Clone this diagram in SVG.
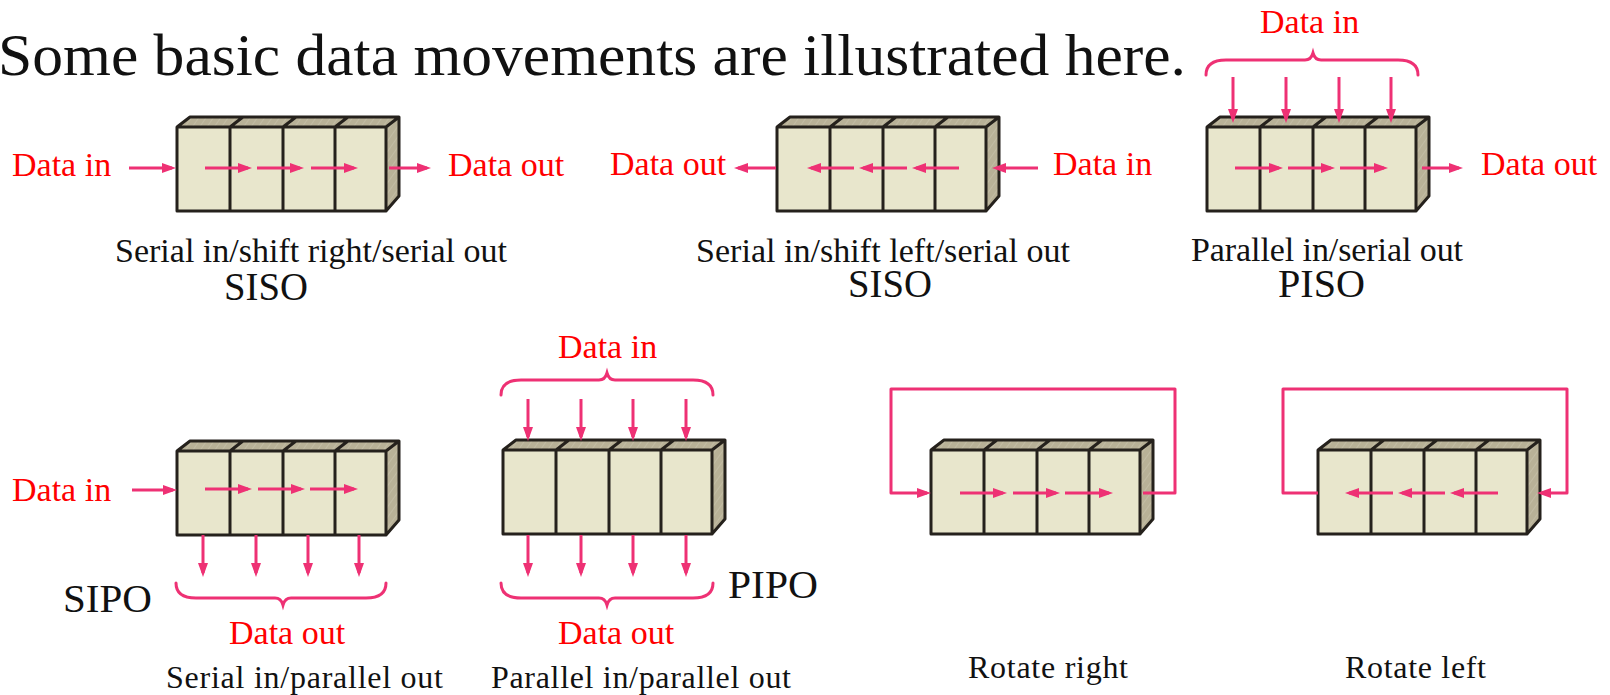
<svg xmlns="http://www.w3.org/2000/svg" width="1610" height="695" viewBox="0 0 1610 695">
  <style>
    .title { font-family: "Liberation Serif", "Times New Roman", serif; font-size: 60px; fill: #111; }
    .cap { font-family: "Liberation Serif", "Times New Roman", serif; font-size: 34px; fill: #111; }
    .cap2 { font-family: "Liberation Serif", "Times New Roman", serif; font-size: 32px; fill: #111; }
    .abbr { font-family: "Liberation Serif", "Times New Roman", serif; font-size: 39px; fill: #111; }
    .io { font-family: "Liberation Serif", "Times New Roman", serif; font-size: 34px; fill: #ff0000; }
    .front { fill: #e8e6cc; }
    .face { fill: url(#hatch); }
    .edge { fill: none; stroke: #25211c; stroke-width: 3; stroke-linejoin: round; }
    .flow { fill: none; stroke: #ee3174; stroke-width: 3; stroke-linejoin: round; marker-end: url(#ah); }
    .brace { fill: none; stroke: #ee3174; stroke-width: 3; stroke-linecap: round; }
  </style>
  <defs>
    <pattern id="hatch" width="6" height="6" patternUnits="userSpaceOnUse" patternTransform="rotate(35)">
      <rect width="6" height="6" fill="#b8b197"/>
      <line x1="0" y1="0" x2="0" y2="6" stroke="#cdc8b2" stroke-width="1"/>
    </pattern>
    <marker id="ah" viewBox="0 0 14 10" refX="10" refY="5" markerWidth="14" markerHeight="10" orient="auto" markerUnits="userSpaceOnUse">
      <path d="M0,0 L14,5 L0,10 z" fill="#ee3174"/>
    </marker>
    <!-- four-stage register drawn as a shaded block, origin at the front top-left corner -->
    <g id="reg">
      <polygon class="face" points="0,0 13,-10 222,-10 209,0"/>
      <polygon class="face" points="209,0 222,-10 222,69 209,84"/>
      <rect class="front" x="0" y="0" width="209" height="84"/>
      <path class="edge" d="M0,0 H209 V84 H0 Z M0,0 L13,-10 H222 L209,0 M222,-10 V69 L209,84 M53,0 V84 M106,0 V84 M158,0 V84 M53,0 L66,-10 M106,0 L119,-10 M158,0 L171,-10"/>
    </g>
  </defs>

  <rect width="1610" height="695" fill="#ffffff"/>

  <text class="title" x="-2" y="75" textLength="1188" lengthAdjust="spacingAndGlyphs">Some basic data movements are illustrated here.</text>

  <g id="siso-right">
    <use href="#reg" x="177" y="127"/>
    <text class="io" x="12" y="176">Data in</text>
    <text class="io" x="448" y="176">Data out</text>
    <text class="cap" x="115" y="262" textLength="392">Serial in/shift right/serial out</text>
    <text class="abbr" x="224" y="300" textLength="84" lengthAdjust="spacingAndGlyphs">SISO</text>
  </g>

  <g id="siso-left">
    <use href="#reg" x="777" y="127"/>
    <text class="io" x="610" y="175">Data out</text>
    <text class="io" x="1053" y="175">Data in</text>
    <text class="cap" x="696" y="262" textLength="374">Serial in/shift left/serial out</text>
    <text class="abbr" x="848" y="297" textLength="84" lengthAdjust="spacingAndGlyphs">SISO</text>
  </g>

  <g id="piso">
    <use href="#reg" x="1207" y="127"/>
    <text class="io" x="1260" y="33">Data in</text>
    <text class="io" x="1481" y="175">Data out</text>
    <text class="cap" x="1191" y="261" textLength="272">Parallel in/serial out</text>
    <text class="abbr" x="1278" y="297" textLength="87" lengthAdjust="spacingAndGlyphs">PISO</text>
  </g>

  <g id="sipo">
    <use href="#reg" x="177" y="451"/>
    <text class="io" x="12" y="501">Data in</text>
    <text class="io" x="229" y="644">Data out</text>
    <text class="abbr" x="63" y="612" textLength="89" lengthAdjust="spacingAndGlyphs">SIPO</text>
    <text class="cap2" x="166" y="688" textLength="277">Serial in/parallel out</text>
  </g>

  <g id="pipo">
    <use href="#reg" x="503" y="450"/>
    <text class="io" x="558" y="358">Data in</text>
    <text class="io" x="558" y="644">Data out</text>
    <text class="abbr" x="728" y="598" textLength="90" lengthAdjust="spacingAndGlyphs">PIPO</text>
    <text class="cap2" x="491" y="688" textLength="300">Parallel in/parallel out</text>
  </g>

  <g id="rotate-right">
    <use href="#reg" x="931" y="450"/>
    <text class="cap2" x="968" y="678" textLength="160">Rotate right</text>
  </g>

  <g id="rotate-left">
    <use href="#reg" x="1318" y="450"/>
    <text class="cap2" x="1345" y="678" textLength="141">Rotate left</text>
  </g>

  <g id="connectors">
    <!-- serial in / shift right / serial out -->
    <path class="flow" d="M129,168 H172"/>
    <path class="flow" d="M205,168 H248"/>
    <path class="flow" d="M257,168 H300"/>
    <path class="flow" d="M311,168 H354"/>
    <path class="flow" d="M389,168 H427"/>

    <!-- serial in / shift left / serial out -->
    <path class="flow" d="M776,168 H738"/>
    <path class="flow" d="M854,168 H811"/>
    <path class="flow" d="M907,168 H863"/>
    <path class="flow" d="M959,168 H916"/>
    <path class="flow" d="M1038,168 H996"/>

    <!-- parallel in / serial out -->
    <path class="brace" d="M1206,75 Q1206,60 1226,60 H1305 Q1311,60 1313,53 Q1315,60 1321,60 H1398 Q1418,60 1418,75"/>
    <path class="flow" d="M1233,77 V119"/>
    <path class="flow" d="M1286,77 V119"/>
    <path class="flow" d="M1339,77 V119"/>
    <path class="flow" d="M1391,77 V119"/>
    <path class="flow" d="M1235,168 H1279"/>
    <path class="flow" d="M1288,168 H1331"/>
    <path class="flow" d="M1340,168 H1384"/>
    <path class="flow" d="M1422,168 H1459"/>

    <!-- serial in / parallel out -->
    <path class="flow" d="M132,490 H173"/>
    <path class="flow" d="M205,489 H248"/>
    <path class="flow" d="M258,489 H301"/>
    <path class="flow" d="M310,489 H354"/>
    <path class="flow" d="M203,535 V573"/>
    <path class="flow" d="M256,535 V573"/>
    <path class="flow" d="M308,535 V573"/>
    <path class="flow" d="M359,535 V573"/>
    <path class="brace" d="M176,583 Q176,598 196,598 H275 Q281,598 283,605 Q285,598 291,598 H366 Q386,598 386,583"/>

    <!-- parallel in / parallel out -->
    <path class="brace" d="M501,395 Q501,380 521,380 H599 Q605,380 607,373 Q609,380 615,380 H693 Q713,380 713,395"/>
    <path class="flow" d="M528,399 V437"/>
    <path class="flow" d="M581,399 V437"/>
    <path class="flow" d="M633,399 V437"/>
    <path class="flow" d="M686,399 V437"/>
    <path class="flow" d="M528,535 V573"/>
    <path class="flow" d="M581,535 V573"/>
    <path class="flow" d="M633,535 V573"/>
    <path class="flow" d="M686,535 V573"/>
    <path class="brace" d="M501,583 Q501,598 521,598 H599 Q605,598 607,605 Q609,598 615,598 H693 Q713,598 713,583"/>

    <!-- rotate right -->
    <path class="flow" d="M960,493 H1003"/>
    <path class="flow" d="M1013,493 H1056"/>
    <path class="flow" d="M1065,493 H1109"/>
    <path class="flow" d="M1143,493 H1175 V389 H891 V493 H927"/>

    <!-- rotate left -->
    <path class="flow" d="M1393,493 H1349"/>
    <path class="flow" d="M1445,493 H1402"/>
    <path class="flow" d="M1498,493 H1454"/>
    <path class="flow" d="M1318,493 H1283 V389 H1567 V493 H1541"/>
  </g>
</svg>
